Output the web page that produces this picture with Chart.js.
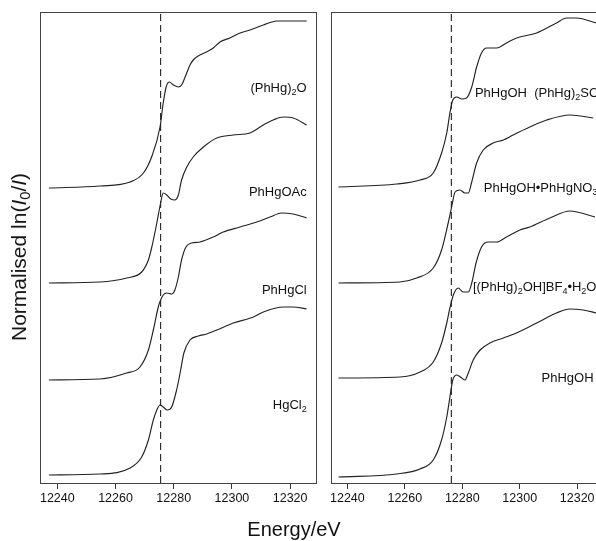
<!DOCTYPE html>
<html>
<head>
<meta charset="utf-8">
<script src="https://cdn.jsdelivr.net/npm/chart.js@4.4.1/dist/chart.umd.min.js"></script>
<style>
  body { margin: 0; background: #fff; }
  #page { position: relative; width: 596px; height: 541px; overflow: hidden; background: #fff; }
  canvas { position: absolute; top: 0; }
  .title { position: absolute; font-family: "Liberation Sans", Arial, sans-serif; color: #111; white-space: nowrap; line-height: 20px; font-size: 20px; }
  .title sub { font-size: 0.7em; vertical-align: -0.25em; line-height: 0; }
</style>
</head>
<body>
<div id="page">
  <canvas id="left-chart" width="325" height="541" style="left:0"></canvas>
  <canvas id="right-chart" width="290" height="541" style="left:325px"></canvas>
  <div class="title" style="left:19px; top:257px; font-size:21px; transform: translate(-50%,-50%) rotate(-90deg);">Normalised ln(<i>I</i><sub>0</sub>/<i>I</i>)</div>
  <div class="title" style="left:294px; top:519px; transform: translateX(-50%);">Energy/eV</div>
</div>
<script>
// x ticks (eV) and the edge markers
const energyTicks = [12240, 12260, 12280, 12300, 12320];
const edgeLeft = 12275.5;
const edgeRight = 12276.2;

// left panel spectra (stacked, normalised units)
const oxideE = [12237.1, 12254.7, 12265.0, 12269.6, 12272.4, 12275.3, 12276.4, 12277.4, 12278.5, 12279.9, 12281.6, 12282.7, 12284.2, 12285.6, 12286.7, 12289.0, 12291.3, 12293.6, 12295.9, 12299.3, 12302.8, 12306.2, 12310.8, 12315.4, 12321.1, 12325.7];
const oxideMu = [2.95, 2.97, 3.01, 3.10, 3.26, 3.56, 3.80, 3.96, 4.01, 3.98, 3.96, 3.98, 4.08, 4.18, 4.23, 4.28, 4.31, 4.35, 4.41, 4.45, 4.50, 4.53, 4.58, 4.62, 4.62, 4.62];

const acetateE = [12237.1, 12254.7, 12263.8, 12269.0, 12271.3, 12272.4, 12274.2, 12275.5, 12276.4, 12277.6, 12279.0, 12280.4, 12281.6, 12282.7, 12284.5, 12286.7, 12290.2, 12294.8, 12300.5, 12306.2, 12310.8, 12314.2, 12317.7, 12321.1, 12325.7];
const acetateMu = [2.00, 2.01, 2.05, 2.11, 2.23, 2.35, 2.60, 2.80, 2.90, 2.88, 2.84, 2.83, 2.88, 3.03, 3.16, 3.26, 3.36, 3.45, 3.48, 3.50, 3.58, 3.63, 3.66, 3.65, 3.58];

const phChlorideE = [12237.1, 12254.7, 12263.8, 12268.4, 12271.3, 12273.0, 12274.7, 12275.5, 12276.4, 12277.6, 12279.3, 12280.4, 12281.6, 12282.7, 12284.2, 12286.2, 12289.0, 12293.6, 12297.0, 12302.8, 12308.5, 12313.1, 12317.1, 12321.1, 12325.7];
const phChlorideMu = [1.03, 1.04, 1.10, 1.16, 1.33, 1.53, 1.76, 1.83, 1.88, 1.90, 1.89, 1.93, 2.06, 2.23, 2.36, 2.40, 2.41, 2.46, 2.51, 2.56, 2.61, 2.66, 2.70, 2.69, 2.65];

const hgcl2E = [12237.1, 12254.7, 12265.0, 12269.0, 12271.3, 12273.0, 12274.2, 12275.3, 12276.4, 12277.8, 12279.3, 12281.0, 12282.2, 12283.5, 12285.6, 12288.5, 12291.3, 12294.8, 12300.5, 12307.4, 12310.8, 12317.7, 12321.1, 12325.7];
const hgcl2Mu = [0.08, 0.09, 0.15, 0.26, 0.43, 0.63, 0.73, 0.78, 0.76, 0.73, 0.76, 0.93, 1.10, 1.30, 1.43, 1.47, 1.49, 1.53, 1.60, 1.66, 1.71, 1.76, 1.76, 1.74];

// right panel spectra
const sulfateE = [12236.9, 12257.2, 12265.3, 12269.9, 12272.8, 12274.6, 12275.7, 12276.7, 12278.1, 12279.8, 12281.5, 12283.3, 12285.0, 12286.7, 12288.5, 12292.0, 12295.4, 12298.9, 12305.9, 12312.8, 12316.3, 12319.8, 12326.7];
const sulfateMu = [2.96, 2.99, 3.03, 3.10, 3.30, 3.50, 3.70, 3.83, 3.86, 3.84, 3.85, 3.96, 4.16, 4.30, 4.35, 4.35, 4.40, 4.45, 4.50, 4.60, 4.65, 4.65, 4.60];

const nitrateE = [12236.9, 12258.3, 12264.1, 12269.9, 12272.8, 12275.1, 12276.3, 12277.5, 12279.2, 12280.9, 12282.1, 12283.3, 12285.0, 12287.3, 12290.8, 12294.3, 12297.7, 12303.5, 12309.4, 12317.5, 12325.6];
const nitrateMu = [2.00, 2.01, 2.05, 2.15, 2.33, 2.60, 2.76, 2.91, 2.93, 2.90, 2.90, 3.01, 3.20, 3.33, 3.40, 3.43, 3.48, 3.56, 3.63, 3.68, 3.65];

const borateE = [12236.9, 12258.3, 12265.3, 12269.9, 12272.8, 12274.6, 12275.7, 12276.9, 12278.6, 12280.3, 12282.1, 12283.3, 12284.8, 12286.7, 12289.0, 12292.0, 12295.4, 12300.1, 12303.5, 12310.5, 12317.5, 12326.2];
const borateMu = [1.05, 1.06, 1.11, 1.21, 1.40, 1.60, 1.75, 1.88, 1.95, 1.91, 1.91, 2.00, 2.20, 2.36, 2.41, 2.41, 2.46, 2.53, 2.56, 2.65, 2.72, 2.66];

const hydroxideE = [12236.9, 12257.2, 12265.3, 12269.9, 12272.8, 12274.6, 12275.7, 12276.7, 12278.1, 12279.8, 12280.9, 12282.1, 12283.8, 12286.2, 12289.6, 12294.3, 12298.9, 12305.9, 12312.8, 12317.5, 12322.1, 12326.7];
const hydroxideMu = [0.06, 0.09, 0.14, 0.23, 0.43, 0.66, 0.86, 1.03, 1.08, 1.05, 1.03, 1.10, 1.23, 1.33, 1.40, 1.45, 1.50, 1.60, 1.70, 1.74, 1.73, 1.70];

// sample names ("_x" = subscript)
const leftNames = ["(PhHg)_2O", "PhHgOAc", "PhHgCl", "HgCl_2"];
const rightNames = ["PhHgOH  (PhHg)_2SO_4", "PhHgOH\u2022PhHgNO_3", "[(PhHg)_2OH]BF_4\u2022H_2O", "PhHgOH"];

const FONT = '"Liberation Sans", Arial, sans-serif';
const INK = "#222";
const Y_MAX = 4.71;

function toPoints(xs, ys) {
  return xs.map((x, i) => ({ x: x, y: ys[i] }));
}

function spectrum(xs, ys) {
  return {
    data: toPoints(xs, ys),
    borderColor: INK,
    borderWidth: 1.15,
    pointRadius: 0,
    cubicInterpolationMode: "monotone",
    fill: false
  };
}

function edgeLine(e) {
  return {
    data: [{ x: e, y: 0 }, { x: e, y: Y_MAX }],
    borderColor: INK,
    borderWidth: 1.1,
    borderDash: [7, 4],
    pointRadius: 0
  };
}

// text with subscripts, anchored on data coords
function drawRich(ctx, text, x, y, align, size) {
  var runs = [];
  for (var i = 0; i < text.length; i++) {
    if (text[i] === "_") {
      runs.push({ t: text[i + 1], sub: true });
      i++;
    } else if (runs.length && !runs[runs.length - 1].sub) {
      runs[runs.length - 1].t += text[i];
    } else {
      runs.push({ t: text[i], sub: false });
    }
  }
  var subSize = Math.round(size * 0.72);
  var total = 0;
  runs.forEach(function (r) {
    ctx.font = (r.sub ? subSize : size) + "px " + FONT;
    r.w = ctx.measureText(r.t).width;
    total += r.w;
  });
  var cx = align === "right" ? x - total : x;
  ctx.textBaseline = "middle";
  ctx.textAlign = "left";
  runs.forEach(function (r) {
    ctx.font = (r.sub ? subSize : size) + "px " + FONT;
    ctx.fillText(r.t, cx, r.sub ? y + size * 0.35 : y);
    cx += r.w;
  });
}

function labelPlugin(names, anchors, align) {
  return {
    id: "sampleLabels",
    afterDatasetsDraw: function (chart) {
      var ctx = chart.ctx;
      var xs = chart.scales.x, ys = chart.scales.y;
      ctx.save();
      ctx.fillStyle = "#111";
      names.forEach(function (n, i) {
        drawRich(ctx, n, xs.getPixelForValue(anchors[i][0]), ys.getPixelForValue(anchors[i][1]), align, 13);
      });
      ctx.restore();
    }
  };
}

const framePlugin = {
  id: "frame",
  beforeDatasetsDraw: function (chart) {
    var a = chart.chartArea, ctx = chart.ctx;
    ctx.save();
    ctx.strokeStyle = "#444";
    ctx.lineWidth = 1;
    ctx.strokeRect(Math.round(a.left) + 0.5, Math.round(a.top) + 0.5, Math.round(a.right - a.left), Math.round(a.bottom - a.top));
    ctx.restore();
  }
};

function makeOptions(yWidth, xMin, xMax, padRight) {
  return {
    responsive: false,
    animation: false,
    devicePixelRatio: 1,
    layout: { padding: { top: 12, right: padRight, left: 0, bottom: 0 } },
    plugins: { legend: { display: false }, tooltip: { enabled: false } },
    scales: {
      x: {
        type: "linear",
        min: xMin,
        max: xMax,
        afterBuildTicks: function (s) { s.ticks = energyTicks.map(function (v) { return { value: v }; }); },
        afterFit: function (s) { s.height = 58; },
        border: { display: false },
        grid: { drawOnChartArea: false, drawTicks: true, tickLength: 6, color: "#333" },
        ticks: {
          color: "#111",
          padding: 2,
          maxRotation: 0,
          font: { family: FONT, size: 12.5 },
          callback: function (v) { return String(v); }
        }
      },
      y: {
        min: 0,
        max: Y_MAX,
        afterFit: function (s) { s.width = yWidth; },
        border: { display: false },
        grid: { display: false },
        ticks: { display: false }
      }
    }
  };
}

// label anchors in data coords (energy, stacked value)
const leftAnchors = [[12325.7, 3.95], [12325.7, 2.91], [12325.7, 1.93], [12325.7, 0.78]];
const rightAnchors = [[12284.4, 3.90], [12287.5, 2.95], [12283.7, 1.96], [12307.6, 1.05]];

new Chart(document.getElementById("left-chart"), {
  type: "line",
  data: {
    datasets: [
      spectrum(oxideE, oxideMu),
      spectrum(acetateE, acetateMu),
      spectrum(phChlorideE, phChlorideMu),
      spectrum(hgcl2E, hgcl2Mu),
      edgeLine(edgeLeft)
    ]
  },
  options: makeOptions(40, 12234.05, 12328.9, 9),
  plugins: [framePlugin, labelPlugin(leftNames, leftAnchors, "right")]
});

new Chart(document.getElementById("right-chart"), {
  type: "line",
  data: {
    datasets: [
      spectrum(sulfateE, sulfateMu),
      spectrum(nitrateE, nitrateMu),
      spectrum(borateE, borateMu),
      spectrum(hydroxideE, hydroxideMu),
      edgeLine(edgeRight)
    ]
  },
  options: makeOptions(6, 12234.3, 12329, 12),
  plugins: [framePlugin, labelPlugin(rightNames, rightAnchors, "left")]
});
</script>
</body>
</html>
